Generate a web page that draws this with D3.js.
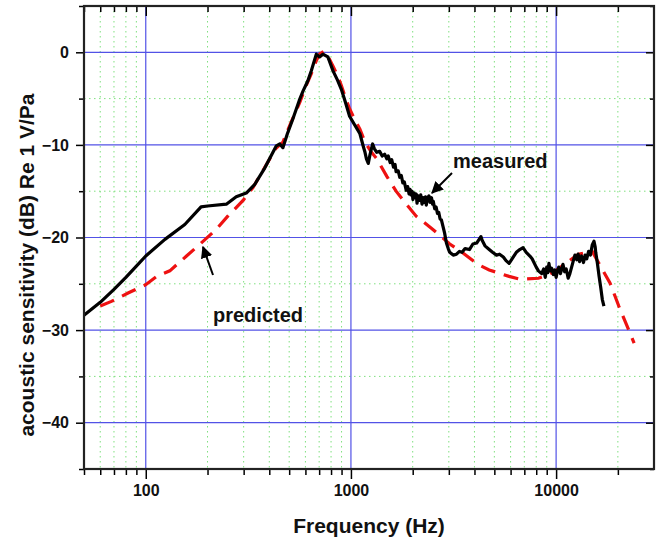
<!DOCTYPE html>
<html>
<head>
<meta charset="utf-8">
<script src="https://cdn.jsdelivr.net/npm/d3@7"></script>
<style>
  body { margin: 0; background: #fff; }
  text { font-family: Arial, "Liberation Sans", sans-serif; }
</style>
</head>
<body>
<script>
// measured curve (frequency Hz, dB)
var measuredFreq = [50, 60, 70, 80, 90, 100, 124, 155, 186, 200, 247, 276, 309, 339, 380, 433, 450, 466, 490, 521,
  560, 584, 616, 641, 678, 703, 730, 772, 818, 860, 898, 940, 985, 1040, 1106, 1150, 1171, 1190, 1215, 1240,
  1276, 1300, 1336, 1380, 1420, 1460, 1496, 1520, 1553, 1580, 1612, 1640, 1660, 1700, 1730, 1760, 1790, 1820, 1860, 1890,
  1920, 1940, 1960, 1985, 2005, 2030, 2060, 2080, 2100, 2130, 2166, 2190, 2220, 2250, 2280, 2310, 2330, 2360, 2400, 2430,
  2470, 2500, 2520, 2560, 2600, 2640, 2680, 2720, 2760, 2860, 2920, 2980, 3030, 3150, 3270, 3380, 3480, 3600, 3780, 3930,
  4100, 4300, 4360, 4500, 4720, 4900, 5120, 5300, 5530, 5700, 5900, 6100, 6400, 6650, 6900, 7150, 7450, 7640, 8000, 8200,
  8500, 8700, 8850, 9000, 9100, 9230, 9350, 9500, 9700, 9850, 10000, 10150, 10300, 10500, 10800, 11000, 11200, 11450, 11670, 11900,
  12100, 12350, 12600, 12800, 13000, 13300, 13600, 13850, 14100, 14400, 14700, 15000, 15300, 15500, 15600, 15900, 16200, 16500, 16800, 17100];
var measuredDb = [-28.4, -27.0, -25.6, -24.3, -23.1, -22.0, -20.2, -18.6, -16.7, -16.6, -16.4, -15.6, -15.2, -14.3, -12.5, -10.1, -9.9, -10.3, -8.8, -7.2,
  -5.2, -4.2, -3.1, -2.0, -0.2, -0.5, -0.2, -0.5, -2.0, -3.0, -4.0, -5.4, -6.9, -7.8, -8.8, -10.2, -10.8, -11.5, -12.0, -11.0,
  -9.9, -10.4, -10.8, -10.7, -11.2, -11.0, -11.5, -11.2, -11.9, -11.6, -12.4, -12.1, -12.9, -12.8, -13.5, -13.3, -14.1, -14.0, -14.9, -14.5,
  -15.3, -14.8, -15.4, -15.0, -15.9, -15.2, -15.7, -15.3, -16.3, -15.5, -16.0, -15.4, -16.4, -15.7, -16.2, -15.6, -16.5, -15.8, -15.5, -16.2,
  -15.7, -16.4, -16.1, -16.9, -16.7, -17.4, -17.3, -18.0, -18.1, -19.5, -20.6, -21.2, -21.6, -21.9, -21.8, -21.5, -21.6, -21.2, -21.3, -20.7,
  -20.6, -19.9, -20.3, -20.9, -21.3, -21.6, -21.9, -21.8, -22.1, -22.5, -22.8, -22.3, -21.6, -21.3, -21.1, -21.6, -22.0, -22.3, -23.2, -23.6,
  -23.9, -23.4, -24.3, -23.2, -23.8, -22.8, -23.6, -23.3, -24.0, -23.5, -24.3, -23.6, -23.2, -23.9, -22.9, -23.7, -23.4, -24.4, -23.9, -23.2,
  -22.6, -21.9, -22.4, -21.8, -22.6, -22.0, -22.7, -21.9, -22.3, -21.5, -21.9, -20.8, -20.4, -21.0, -21.6, -22.8, -24.2, -25.4, -26.7, -27.4];

// predicted curve
var predictedFreq = [60, 68, 82, 100, 113, 131, 158, 180, 221, 251, 298, 333, 388, 430, 466, 510, 563, 600, 641, 675,
  703, 736, 772, 818, 860, 898, 940, 985, 1040, 1106, 1171, 1250, 1336, 1496, 1660, 1860, 2080, 2500, 3030, 3480,
  4150, 4720, 5900, 6640, 8200, 9230, 10400, 11450, 12850, 15000, 15800, 18300, 20200, 24000];
var predictedDb = [-27.4, -26.9, -26.0, -25.1, -24.2, -23.6, -22.0, -20.9, -19.1, -17.7, -16.0, -14.6, -12.1, -10.4, -9.7, -7.6, -5.4, -3.8, -2.3, -1.0,
  -0.2, 0.1, -0.4, -1.5, -2.5, -3.6, -4.9, -6.1, -7.2, -8.3, -9.7, -10.7, -11.5, -13.4, -15.0, -16.4, -17.7, -19.1, -20.7, -21.6,
  -22.9, -23.5, -24.2, -24.5, -24.4, -24.0, -23.3, -22.6, -21.8, -21.5, -22.4, -24.9, -27.4, -31.4];

// ticks
var xMajor = [100, 1000, 10000];
var xMinor = [50, 60, 70, 80, 90, 200, 300, 400, 500, 600, 700, 800, 900,
  2000, 3000, 4000, 5000, 6000, 7000, 8000, 9000, 20000];
var yMajor = [0, -10, -20, -30, -40];
var yMinor = [5, -5, -15, -25, -35, -45];

// plot box (note: "top" is taken by window.top)
var plotL = 84, plotR = 654, plotT = 6, plotB = 469;
var width = 664, height = 544;

var svg = d3.select("body").append("svg")
    .attr("width", width)
    .attr("height", height);

var x = d3.scaleLog().domain([50, 30000]).range([plotL, plotR]);
var y = d3.scaleLinear().domain([-45, 5]).range([plotB, plotT]);

// minor grid (green dotted)
var grid = svg.append("g");
grid.selectAll(".vminor").data(xMinor.filter(function(d){ return d > 50; }))
  .enter().append("line")
    .attr("x1", function(d){ return x(d); })
    .attr("x2", function(d){ return x(d); })
    .attr("y1", plotT).attr("y2", plotB)
    .attr("stroke", "#7fe07f").attr("stroke-width", 1)
    .attr("stroke-dasharray", "1.5,3.5");
grid.selectAll(".hminor").data(yMinor.filter(function(d){ return d > -45 && d < 5; }))
  .enter().append("line")
    .attr("x1", plotL).attr("x2", plotR)
    .attr("y1", function(d){ return y(d); })
    .attr("y2", function(d){ return y(d); })
    .attr("stroke", "#7fe07f").attr("stroke-width", 1)
    .attr("stroke-dasharray", "1.5,3.5");

// major grid (blue)
grid.selectAll(".vmajor").data(xMajor)
  .enter().append("line")
    .attr("x1", function(d){ return x(d); })
    .attr("x2", function(d){ return x(d); })
    .attr("y1", plotT).attr("y2", plotB)
    .attr("stroke", "#5252e6").attr("stroke-width", 1.2);
grid.selectAll(".hmajor").data(yMajor)
  .enter().append("line")
    .attr("x1", plotL).attr("x2", plotR)
    .attr("y1", function(d){ return y(d); })
    .attr("y2", function(d){ return y(d); })
    .attr("stroke", "#5252e6").attr("stroke-width", 1.2);

// curves
var lineGen = d3.line()
    .x(function(d){ return x(d[0]); })
    .y(function(d){ return y(d[1]); });

var predicted = predictedFreq.map(function(f, i){ return [f, predictedDb[i]]; });
var measured = measuredFreq.map(function(f, i){ return [f, measuredDb[i]]; });

svg.append("path")
    .attr("d", lineGen(predicted))
    .attr("fill", "none")
    .attr("stroke", "#ee1111")
    .attr("stroke-width", 3.2)
    .attr("stroke-dasharray", "15,9");

svg.append("path")
    .attr("d", lineGen(measured))
    .attr("fill", "none")
    .attr("stroke", "#000")
    .attr("stroke-width", 3.2)
    .attr("stroke-linejoin", "round");

// axes
function styleAxis(g) {
  g.select(".domain").remove();
  g.selectAll(".tick line").attr("stroke", "#000").attr("stroke-width", 1.5);
  g.selectAll(".tick text")
    .attr("font-size", "16px")
    .attr("font-weight", "bold")
    .attr("fill", "#111");
}

svg.append("g").attr("transform", "translate(0," + plotB + ")")
    .call(d3.axisBottom(x).tickValues(xMajor).tickSize(10).tickPadding(6).tickFormat(d3.format("d")))
    .call(styleAxis);
svg.append("g").attr("transform", "translate(0," + plotB + ")")
    .call(d3.axisBottom(x).tickValues(xMinor).tickSize(6).tickFormat(""))
    .call(styleAxis);
svg.append("g").attr("transform", "translate(0," + plotT + ")")
    .call(d3.axisBottom(x).tickValues(xMajor).tickSize(10).tickFormat(""))
    .call(styleAxis);
svg.append("g").attr("transform", "translate(0," + plotT + ")")
    .call(d3.axisBottom(x).tickValues(xMinor).tickSize(6).tickFormat(""))
    .call(styleAxis);

svg.append("g").attr("transform", "translate(" + plotL + ",0)")
    .call(d3.axisLeft(y).tickValues(yMajor).tickSize(8).tickPadding(7).tickFormat(d3.format("d")))
    .call(styleAxis);
svg.append("g").attr("transform", "translate(" + plotL + ",0)")
    .call(d3.axisLeft(y).tickValues(yMinor).tickSize(5).tickFormat(""))
    .call(styleAxis);
svg.append("g").attr("transform", "translate(" + plotR + ",0)")
    .call(d3.axisLeft(y).tickValues(yMajor).tickSize(8).tickFormat(""))
    .call(styleAxis);
svg.append("g").attr("transform", "translate(" + plotR + ",0)")
    .call(d3.axisLeft(y).tickValues(yMinor).tickSize(4).tickFormat(""))
    .call(styleAxis);

// frame
svg.append("rect")
    .attr("x", plotL).attr("y", plotT)
    .attr("width", plotR - plotL).attr("height", plotB - plotT)
    .attr("fill", "none").attr("stroke", "#222").attr("stroke-width", 2.2);

// axis titles
svg.append("text")
    .attr("x", (plotL + plotR) / 2).attr("y", 533)
    .attr("text-anchor", "middle")
    .attr("font-size", "21px").attr("font-weight", "bold").attr("fill", "#111")
    .text("Frequency (Hz)");

svg.append("text")
    .attr("transform", "translate(34,265) rotate(-90)")
    .attr("text-anchor", "middle")
    .attr("font-size", "21px").attr("font-weight", "bold").attr("fill", "#111")
    .text("acoustic sensitivity (dB) Re 1 V/Pa");

// annotations
svg.append("defs").append("marker")
    .attr("id", "head")
    .attr("viewBox", "0 0 10 10")
    .attr("refX", 9).attr("refY", 5)
    .attr("markerWidth", 6).attr("markerHeight", 6)
    .attr("orient", "auto")
  .append("path")
    .attr("d", "M0,0L10,5L0,10z")
    .attr("fill", "#000");

svg.append("text")
    .attr("x", 453).attr("y", 168)
    .attr("font-size", "20px").attr("font-weight", "bold").attr("fill", "#111")
    .text("measured");
svg.append("line")
    .attr("x1", 452).attr("y1", 173).attr("x2", 432).attr("y2", 193)
    .attr("stroke", "#000").attr("stroke-width", 2)
    .attr("marker-end", "url(#head)");

svg.append("text")
    .attr("x", 213).attr("y", 322)
    .attr("font-size", "20px").attr("font-weight", "bold").attr("fill", "#111")
    .text("predicted");
svg.append("line")
    .attr("x1", 213).attr("y1", 275).attr("x2", 203).attr("y2", 247)
    .attr("stroke", "#000").attr("stroke-width", 2)
    .attr("marker-end", "url(#head)");
</script>
</body>
</html>
